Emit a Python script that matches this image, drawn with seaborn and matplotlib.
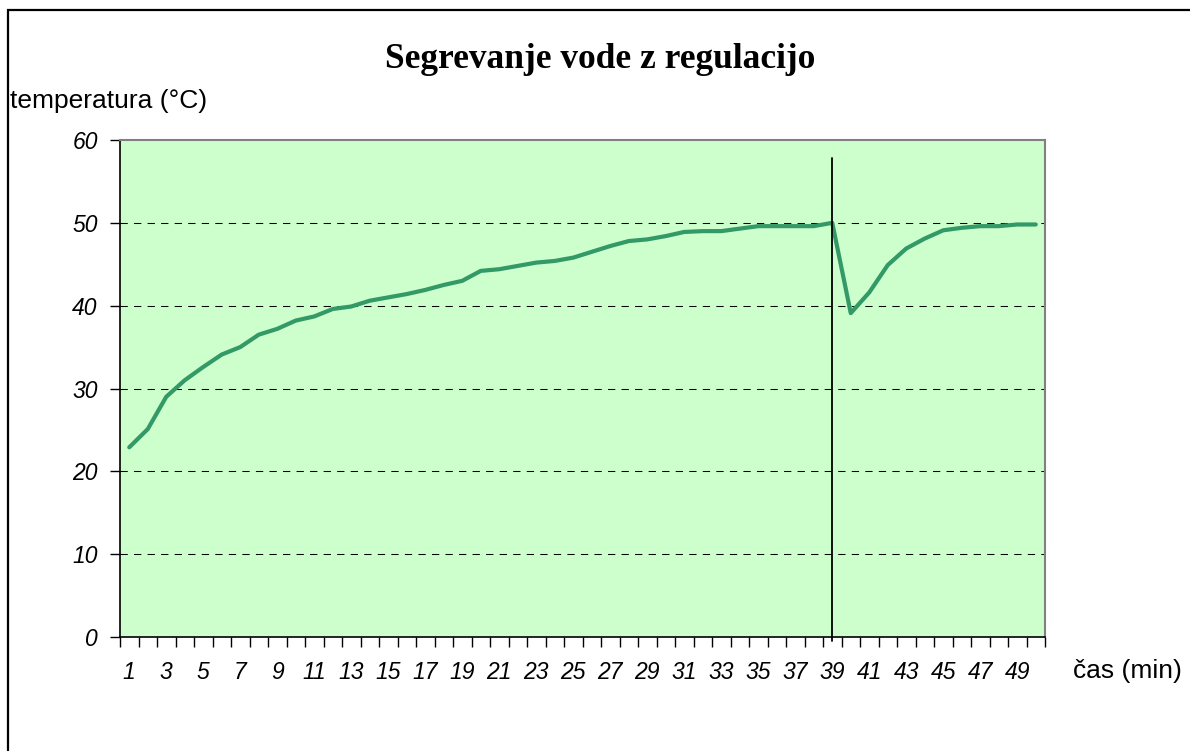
import matplotlib
matplotlib.use("Agg")
import matplotlib.pyplot as plt
import matplotlib.patches as patches
import pandas as pd
import seaborn as sns

# --- data ---
minutes = list(range(1, 51))
temperature = [
    22.9, 25.1, 29.0, 31.0, 32.6, 34.1, 35.0, 36.5, 37.2, 38.2,
    38.7, 39.6, 39.9, 40.6, 41.0, 41.4, 41.9, 42.5, 43.0, 44.2,
    44.4, 44.8, 45.2, 45.4, 45.8, 46.5, 47.2, 47.8, 48.0, 48.4,
    48.9, 49.0, 49.0, 49.3, 49.6, 49.6, 49.6, 49.6, 50.0, 39.1,
    41.6, 44.9, 46.9, 48.1, 49.1, 49.4, 49.6, 49.6, 49.8, 49.8,
]
regulation_start = 39
y_ticks = [0, 10, 20, 30, 40, 50, 60]
x_tick_labels = [str(m) for m in minutes[::2]]

title = "Segrevanje vode z regulacijo"
y_title = "temperatura (°C)"
x_title = "čas (min)"

df = pd.DataFrame({"minute": minutes, "temp": temperature})

sns.set_style("white")
plt.rcParams["font.family"] = ["Liberation Sans", "DejaVu Sans"]
plt.rcParams["text.color"] = "black"
plt.rcParams["xtick.color"] = "black"
plt.rcParams["ytick.color"] = "black"

W, H = 1190, 751
fig = plt.figure(figsize=(W / 100, H / 100), dpi=100)
ax = fig.add_axes([120 / W, 1 - 637 / H, 925 / W, 497 / H])
ax.set_facecolor("#CCFFCC")

# dashed grid lines
for v in y_ticks[1:-1]:
    ax.axhline(v, color="black", lw=0.75, ls=(0, (7, 6)), zorder=1)

sns.lineplot(data=df, x="minute", y="temp", color="#339966", lw=3.0, ax=ax, zorder=3)

# vertical marker where regulation starts
ax.axvline(regulation_start, ymin=-0.008, ymax=0.964, color="black", lw=1.3,
           clip_on=False, zorder=4)

ax.set_xlim(0.5, 50.5)
ax.set_ylim(0, 60)
ax.set_xlabel("")
ax.set_ylabel("")

ax.set_yticks(y_ticks)
ax.set_yticklabels([str(v) for v in y_ticks], fontstyle="italic", fontsize=16.5)
ax.tick_params(axis="y", direction="out", length=7, width=1, color="black", pad=9, left=True)

ax.set_xticks(minutes[::2])
ax.set_xticklabels(x_tick_labels, fontstyle="italic", fontsize=16.5)
ax.set_xticks([m + 0.5 for m in range(0, 51)], minor=True)
ax.tick_params(axis="x", which="major", length=0, pad=17)
ax.tick_params(axis="x", which="minor", direction="out", length=7, width=1,
               color="black", bottom=True)

for side in ["left", "bottom"]:
    ax.spines[side].set_color("black")
    ax.spines[side].set_linewidth(1.2)
for side in ["top", "right"]:
    ax.spines[side].set_visible(True)
    ax.spines[side].set_color("#808080")
    ax.spines[side].set_linewidth(1.5)

fig.text(600 / W, 1 - 68 / H, title, ha="center", va="baseline",
         fontsize=25.5, fontweight="bold", family="Liberation Serif")
fig.text(10 / W, 1 - 108 / H, y_title, ha="left", va="baseline", fontsize=19)
fig.text(1073 / W, 1 - 678 / H, x_title, ha="left", va="baseline", fontsize=19)

# outer chart frame
fig.patches.append(patches.Rectangle((8 / W, -0.1), 1.2, 1.1 - 9.5 / H,
                                     transform=fig.transFigure, fill=False,
                                     edgecolor="black", lw=1.6))

fig.savefig("out.png", dpi=100)
